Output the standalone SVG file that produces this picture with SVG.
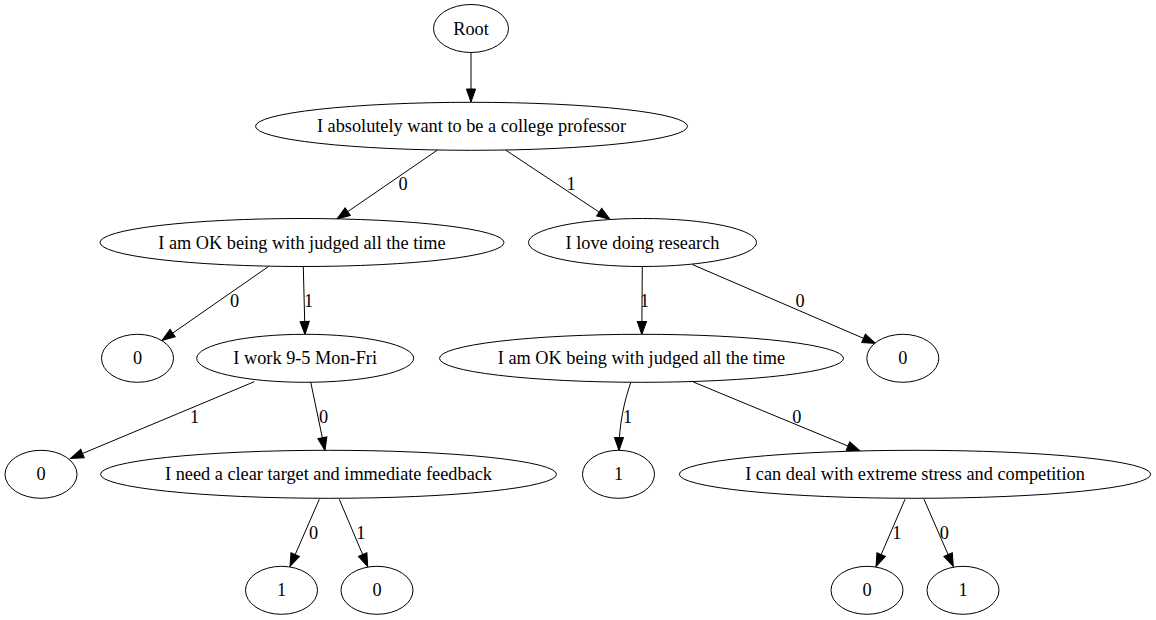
<svg xmlns="http://www.w3.org/2000/svg" width="1156" height="620" viewBox="0 0 1156 620">
<style>
.n ellipse{fill:#fff;stroke:#000;stroke-width:1}
text{font-family:"Liberation Serif","Times New Roman",serif;font-size:18.3px;fill:#000;text-anchor:middle}
.e path{fill:none;stroke:#000;stroke-width:1;marker-end:url(#arr)}
</style>
<defs>
<marker id="arr" markerUnits="userSpaceOnUse" markerWidth="16" markerHeight="12" refX="13.3" refY="6" orient="auto" overflow="visible">
<path d="M0.3,1.4 L13.3,6 L0.3,10.6 Z" fill="#000" stroke="#000" stroke-width="1"/>
</marker>
</defs>
<rect width="1156" height="620" fill="#fff"/>
<g id="edges" class="e">
<path d="M471,52.5 L471,102"/>
<path d="M437.5,150 L337,219"/>
<path d="M505.5,150 L610,219.3"/>
<path d="M268.5,266.5 L162,340.5"/>
<path d="M303.3,266.5 L305,334.5"/>
<path d="M642.3,266.7 L641.8,334.5"/>
<path d="M692.3,264.5 L875.5,343.5"/>
<path d="M254.3,381.7 L70.5,458.5"/>
<path d="M310.7,382 L325,450.5"/>
<path d="M630.7,382.7 C624,402 619,425 619,450.5"/>
<path d="M693.3,382 L860,451"/>
<path d="M319.3,499.3 L290,566.5"/>
<path d="M339.3,499.3 L367.7,566.5"/>
<path d="M905,499.3 L876,566.5"/>
<path d="M924,499.3 L953.3,566.5"/>
<g id="edge-labels">
<text x="403" y="190">0</text>
<text x="571" y="190">1</text>
<text x="234.5" y="306.7">0</text>
<text x="308.5" y="306.7">1</text>
<text x="644.5" y="306.7">1</text>
<text x="800" y="306.7">0</text>
<text x="194.5" y="422.7">1</text>
<text x="323.5" y="422.7">0</text>
<text x="627.5" y="423">1</text>
<text x="796.7" y="422.7">0</text>
<text x="313.5" y="539">0</text>
<text x="360.7" y="539">1</text>
<text x="896.7" y="539">1</text>
<text x="944.3" y="539">0</text>
</g>
</g>
<g id="root" class="n"><ellipse cx="471" cy="28.5" rx="37.5" ry="24"/><text x="471" y="34.5">Root</text></g>
<g id="q_professor" class="n"><ellipse cx="471.5" cy="126.3" rx="216" ry="24"/><text x="471.5" y="132.3">I absolutely want to be a college professor</text></g>
<g id="q_judged_left" class="n"><ellipse cx="302" cy="242.5" rx="202" ry="24"/><text x="302" y="248.5">I am OK being with judged all the time</text></g>
<g id="q_research" class="n"><ellipse cx="642.5" cy="242.5" rx="114" ry="24"/><text x="642.5" y="248.5">I love doing research</text></g>
<g id="leaf_l3_0a" class="n"><ellipse cx="137.5" cy="358.3" rx="36" ry="24"/><text x="137.5" y="364.3">0</text></g>
<g id="q_work" class="n"><ellipse cx="305.2" cy="358.3" rx="108.5" ry="24"/><text x="305.2" y="364.3">I work 9-5 Mon-Fri</text></g>
<g id="q_judged_right" class="n"><ellipse cx="641.5" cy="358.3" rx="202" ry="24"/><text x="641.5" y="364.3">I am OK being with judged all the time</text></g>
<g id="leaf_l3_0b" class="n"><ellipse cx="902.8" cy="358.3" rx="36" ry="24"/><text x="902.8" y="364.3">0</text></g>
<g id="leaf_l4_0" class="n"><ellipse cx="41" cy="474.3" rx="36" ry="24"/><text x="41" y="480.3">0</text></g>
<g id="q_target" class="n"><ellipse cx="328.5" cy="474.3" rx="228" ry="24"/><text x="328.5" y="480.3">I need a clear target and immediate feedback</text></g>
<g id="leaf_l4_1" class="n"><ellipse cx="618.5" cy="474.3" rx="36" ry="24"/><text x="618.5" y="480.3">1</text></g>
<g id="q_stress" class="n"><ellipse cx="915" cy="474.3" rx="235.7" ry="24"/><text x="915" y="480.3">I can deal with extreme stress and competition</text></g>
<g id="leaf_l5_1a" class="n"><ellipse cx="281.5" cy="590.3" rx="36" ry="24"/><text x="281.5" y="596.3">1</text></g>
<g id="leaf_l5_0a" class="n"><ellipse cx="377" cy="590.3" rx="36" ry="24"/><text x="377" y="596.3">0</text></g>
<g id="leaf_l5_0b" class="n"><ellipse cx="867" cy="590.3" rx="36" ry="24"/><text x="867" y="596.3">0</text></g>
<g id="leaf_l5_1b" class="n"><ellipse cx="963" cy="590.3" rx="36" ry="24"/><text x="963" y="596.3">1</text></g>
</svg>
